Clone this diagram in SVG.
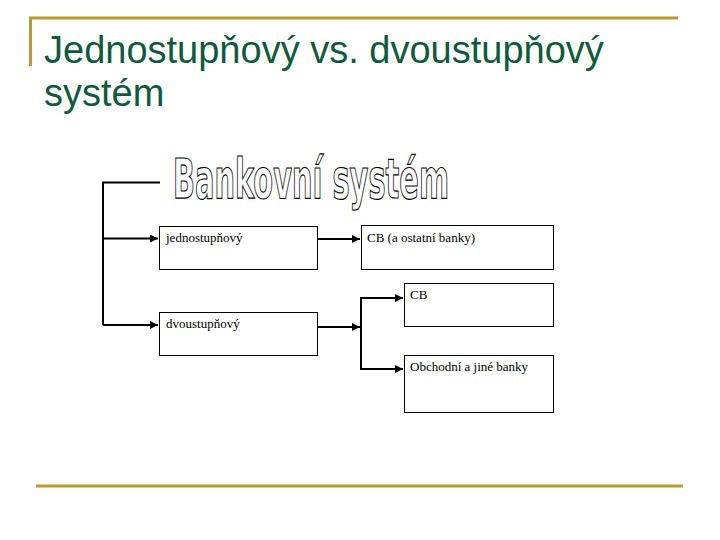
<svg xmlns="http://www.w3.org/2000/svg" width="720" height="540" viewBox="0 0 720 540">
<style>
.gold{stroke:#B89A2E;fill:none}
.title{font-family:"Liberation Sans",Arial,sans-serif;font-size:38px;fill:#0F5A3C}
.box{fill:#fff;stroke:#000;stroke-width:1}
.lbl{font-family:"Liberation Serif","Times New Roman","DejaVu Serif",serif;font-size:13px;fill:#000}
.conn{stroke:#000;stroke-width:2;fill:none}
.big{font-family:"Liberation Sans Narrow","DejaVu Sans Condensed","Liberation Sans",sans-serif;font-weight:bold;font-size:56px;fill:#fff;stroke:#000;stroke-width:1.2}
</style>
<defs>
<marker id="ah" viewBox="0 0 6 6" refX="6" refY="3" markerWidth="4" markerHeight="4" orient="auto" markerUnits="strokeWidth">
<path d="M0,0 L6,3 L0,6 z" fill="#000"/>
</marker>
</defs>
<g id="frame">
<line class="gold" x1="29" y1="18" x2="678" y2="18" stroke-width="3"/>
<line class="gold" x1="30.5" y1="17" x2="30.5" y2="66" stroke-width="3"/>
<line class="gold" x1="36" y1="486" x2="683" y2="486" stroke-width="3"/>
</g>
<g id="title">
<text class="title" x="44" y="63">Jednostupňový vs. dvoustupňový</text>
<text class="title" x="44" y="106">systém</text>
</g>
<g id="heading">
<text class="big" x="173" y="198" textLength="276" lengthAdjust="spacingAndGlyphs">Bankovní systém</text>
</g>
<g id="connectors">
<polyline class="conn" points="160,182.5 103,182.5 103,325"/>
<line class="conn" x1="103" y1="238.5" x2="158" y2="238.5" marker-end="url(#ah)"/>
<line class="conn" x1="103" y1="325" x2="158" y2="325" marker-end="url(#ah)"/>
<line class="conn" x1="317" y1="239" x2="360" y2="239" marker-end="url(#ah)"/>
<line class="conn" x1="317" y1="327" x2="360" y2="327" marker-end="url(#ah)"/>
<polyline class="conn" points="403,298 361,298 361,369 403,369" marker-end="url(#ah)"/>
<line class="conn" x1="361" y1="298" x2="403" y2="298" marker-end="url(#ah)"/>
</g>
<g id="n-jedno">
<rect class="box" x="159.5" y="226.5" width="158" height="43"/>
<text class="lbl" x="166" y="242">jednostupňový</text>
</g>
<g id="n-cb-ostatni">
<rect class="box" x="361.5" y="225.5" width="192" height="44"/>
<text class="lbl" x="367" y="242">CB (a ostatní banky)</text>
</g>
<g id="n-cb">
<rect class="box" x="404.5" y="283.5" width="149" height="43"/>
<text class="lbl" x="410" y="299">CB</text>
</g>
<g id="n-dvou">
<rect class="box" x="159.5" y="312.5" width="158" height="43"/>
<text class="lbl" x="166" y="328">dvoustupňový</text>
</g>
<g id="n-obchodni">
<rect class="box" x="404.5" y="355.5" width="149" height="57"/>
<text class="lbl" x="410" y="371">Obchodní a jiné banky</text>
</g>
</svg>
